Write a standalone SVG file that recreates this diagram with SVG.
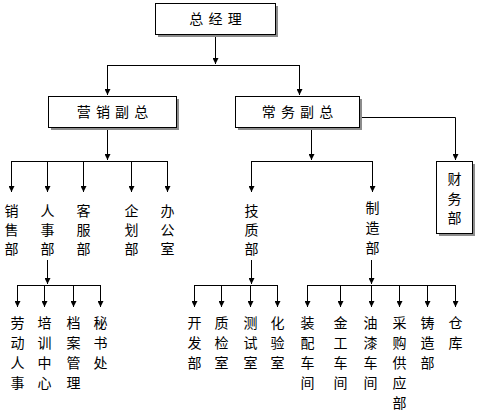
<svg xmlns="http://www.w3.org/2000/svg" width="485" height="413" viewBox="0 0 485 413">
<defs>
<marker id="ah" viewBox="0 0 6 6" refX="6" refY="3" markerWidth="6" markerHeight="6" markerUnits="userSpaceOnUse" orient="auto">
<path d="M0,0 L6,3 L0,6 Z" fill="#000"/>
</marker>
</defs>
<style>
.box{fill:#fff;stroke:#000;stroke-width:1}
.sh{fill:#8c8c8c}
.ln{fill:none;stroke:#000;stroke-width:1}
.ar{fill:none;stroke:#000;stroke-width:1;marker-end:url(#ah)}
text{font-family:"Noto Sans CJK SC","Noto Sans",sans-serif;font-size:14px;fill:#000;text-anchor:middle}
.bt{letter-spacing:1px}
</style>
<rect width="485" height="413" fill="#fff"/>
<g id="connectors">
<path class="ar" d="M215.5,34 V64"/>
<path class="ln" d="M107.5,65.5 H299.5"/>
<path class="ar" d="M107.5,65 V95"/>
<path class="ar" d="M299.5,65 V95"/>
<path class="ar" d="M359,117.5 H455.5 V160"/>
<path class="ar" d="M107.5,127 V160"/>
<path class="ln" d="M11.5,161.5 H167.5"/>
<path class="ar" d="M11.5,161 V192"/>
<path class="ar" d="M47.5,161 V192"/>
<path class="ar" d="M83.5,161 V192"/>
<path class="ar" d="M131.5,161 V192"/>
<path class="ar" d="M167.5,161 V192"/>
<path class="ar" d="M311.5,127 V160"/>
<path class="ln" d="M251.5,161.5 H372.5"/>
<path class="ar" d="M251.5,161 V192"/>
<path class="ar" d="M372.5,161 V192"/>
<path class="ar" d="M47.5,260 V284"/>
<path class="ln" d="M17.5,285.5 H100.5"/>
<path class="ar" d="M17.5,285 V307"/>
<path class="ar" d="M44.5,285 V307"/>
<path class="ar" d="M73.5,285 V307"/>
<path class="ar" d="M100.5,285 V307"/>
<path class="ar" d="M251.5,260 V284"/>
<path class="ln" d="M194.5,285.5 H277.5"/>
<path class="ar" d="M194.5,285 V307"/>
<path class="ar" d="M221.5,285 V307"/>
<path class="ar" d="M250.5,285 V307"/>
<path class="ar" d="M277.5,285 V307"/>
<path class="ar" d="M371.5,260 V284"/>
<path class="ln" d="M307.5,285.5 H455.5"/>
<path class="ar" d="M307.5,285 V307"/>
<path class="ar" d="M340.5,285 V307"/>
<path class="ar" d="M371.5,285 V307"/>
<path class="ar" d="M399.5,285 V307"/>
<path class="ar" d="M427.5,285 V307"/>
<path class="ar" d="M455.5,285 V307"/>
</g>
<g id="n-zjl">
<rect class="sh" x="158" y="6" width="120" height="31"/>
<rect class="box" x="155.5" y="3.5" width="120" height="31"/>
<text class="bt" x="216" y="24">总 经 理</text>
</g>
<g id="n-yxfz">
<rect class="sh" x="51" y="99" width="128" height="31"/>
<rect class="box" x="48.5" y="96.5" width="128" height="31"/>
<text class="bt" x="113" y="117">营 销 副 总</text>
</g>
<g id="n-cwfz">
<rect class="sh" x="238" y="99" width="124" height="31"/>
<rect class="box" x="235.5" y="96.5" width="124" height="31"/>
<text class="bt" x="298" y="117">常 务 副 总</text>
</g>
<g id="n-cwb">
<rect class="sh" x="439" y="164" width="36" height="72"/>
<rect class="box" x="436.5" y="161.5" width="36" height="72"/>
<text x="454.5" y="184">财<tspan x="454.5" dy="20">务</tspan><tspan x="454.5" dy="19">部</tspan></text>
</g>
<g id="n-xsb"><text x="11.5" y="216">销<tspan x="11.5" dy="19">售</tspan><tspan x="11.5" dy="19">部</tspan></text></g>
<g id="n-rsb"><text x="47.5" y="216">人<tspan x="47.5" dy="19">事</tspan><tspan x="47.5" dy="19">部</tspan></text></g>
<g id="n-kfb"><text x="83.5" y="216">客<tspan x="83.5" dy="19">服</tspan><tspan x="83.5" dy="19">部</tspan></text></g>
<g id="n-qhb"><text x="131.5" y="216">企<tspan x="131.5" dy="19">划</tspan><tspan x="131.5" dy="19">部</tspan></text></g>
<g id="n-bgs"><text x="167.5" y="216">办<tspan x="167.5" dy="19">公</tspan><tspan x="167.5" dy="19">室</tspan></text></g>
<g id="n-jzb"><text x="251.5" y="216">技<tspan x="251.5" dy="19">质</tspan><tspan x="251.5" dy="19">部</tspan></text></g>
<g id="n-zzb"><text x="372.5" y="213">制<tspan x="372.5" dy="20">造</tspan><tspan x="372.5" dy="20">部</tspan></text></g>
<g id="n-ldrs"><text x="17.5" y="328">劳<tspan x="17.5" dy="20">动</tspan><tspan x="17.5" dy="20">人</tspan><tspan x="17.5" dy="20">事</tspan></text></g>
<g id="n-pxzx"><text x="44.5" y="328">培<tspan x="44.5" dy="20">训</tspan><tspan x="44.5" dy="20">中</tspan><tspan x="44.5" dy="20">心</tspan></text></g>
<g id="n-dagl"><text x="73.5" y="328">档<tspan x="73.5" dy="20">案</tspan><tspan x="73.5" dy="20">管</tspan><tspan x="73.5" dy="20">理</tspan></text></g>
<g id="n-msc"><text x="100.5" y="328">秘<tspan x="100.5" dy="20">书</tspan><tspan x="100.5" dy="20">处</tspan></text></g>
<g id="n-kfb2"><text x="194.5" y="328">开<tspan x="194.5" dy="20">发</tspan><tspan x="194.5" dy="20">部</tspan></text></g>
<g id="n-zjs"><text x="221.5" y="328">质<tspan x="221.5" dy="20">检</tspan><tspan x="221.5" dy="20">室</tspan></text></g>
<g id="n-css"><text x="250.5" y="328">测<tspan x="250.5" dy="20">试</tspan><tspan x="250.5" dy="20">室</tspan></text></g>
<g id="n-hys"><text x="277.5" y="328">化<tspan x="277.5" dy="20">验</tspan><tspan x="277.5" dy="20">室</tspan></text></g>
<g id="n-zpcj"><text x="307.5" y="328">装<tspan x="307.5" dy="20">配</tspan><tspan x="307.5" dy="20">车</tspan><tspan x="307.5" dy="20">间</tspan></text></g>
<g id="n-jgcj"><text x="340.5" y="328">金<tspan x="340.5" dy="20">工</tspan><tspan x="340.5" dy="20">车</tspan><tspan x="340.5" dy="20">间</tspan></text></g>
<g id="n-yqcj"><text x="370.5" y="328">油<tspan x="370.5" dy="20">漆</tspan><tspan x="370.5" dy="20">车</tspan><tspan x="370.5" dy="20">间</tspan></text></g>
<g id="n-cggyb"><text x="399.5" y="328">采<tspan x="399.5" dy="20">购</tspan><tspan x="399.5" dy="20">供</tspan><tspan x="399.5" dy="20">应</tspan><tspan x="399.5" dy="20">部</tspan></text></g>
<g id="n-zzb2"><text x="427.5" y="328">铸<tspan x="427.5" dy="20">造</tspan><tspan x="427.5" dy="20">部</tspan></text></g>
<g id="n-ck"><text x="455.5" y="328">仓<tspan x="455.5" dy="20">库</tspan></text></g>
</svg>
